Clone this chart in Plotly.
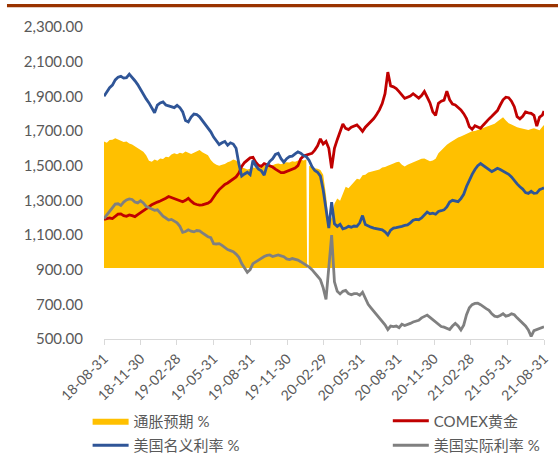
import pandas as pd
import plotly.graph_objects as go

# Weekly observation dates plus the final month-end
WEEKS = pd.date_range("2018-08-31", periods=157, freq="7D").strftime("%Y-%m-%d").tolist()
END_DATE = "2021-08-31"
DATES = WEEKS + [END_DATE]

# Quarter-end tick dates
TICK_DATES = ["2018-08-31", "2018-11-30", "2019-02-28", "2019-05-31", "2019-08-31",
              "2019-11-30", "2020-02-29", "2020-05-31", "2020-08-31", "2020-11-30",
              "2021-02-28", "2021-05-31", "2021-08-31"]
TICK_LABELS = [d[2:] for d in TICK_DATES]

Y_TICKS = [500, 700, 900, 1100, 1300, 1500, 1700, 1900, 2100, 2300]

# COMEX gold
GOLD = [
    1190, 1192, 1198, 1195, 1208, 1220, 1222, 1212, 1208, 1216,
    1212, 1206, 1218, 1228, 1238, 1250, 1262, 1275, 1285, 1290,
    1296, 1302, 1312, 1322, 1316, 1310, 1304, 1298, 1292, 1300,
    1312, 1295, 1282, 1276, 1272, 1274, 1278, 1284, 1295, 1322,
    1342, 1362, 1380, 1392, 1400, 1412, 1420, 1435, 1458, 1495,
    1518, 1530, 1545, 1548, 1520, 1502, 1496, 1512, 1505, 1500,
    1492, 1480, 1472, 1460, 1460, 1466, 1470, 1476, 1486, 1500,
    1540, 1556, 1560, 1565, 1571, 1590, 1615, 1655, 1625, 1640,
    1600, 1485, 1600, 1650, 1690, 1740, 1715, 1708, 1722, 1730,
    1735, 1718, 1698, 1722, 1738, 1755, 1772, 1795, 1822, 1858,
    1915, 2040, 1960, 1955, 1945, 1927, 1905, 1888, 1895, 1902,
    1915, 1905, 1890, 1905, 1928, 1895, 1862, 1810, 1790, 1860,
    1872, 1878, 1930, 1880, 1855, 1850, 1838, 1822, 1800, 1772,
    1725, 1710, 1730, 1725, 1716, 1735, 1755, 1770, 1785, 1800,
    1818, 1850, 1880, 1895, 1892, 1872, 1840, 1783, 1770, 1785,
    1810, 1805, 1802, 1790, 1728, 1780, 1792,
    1815,
]

# US nominal rate (scaled to the gold axis)
NOMINAL = [
    1900, 1925, 1950, 1965, 1995, 2010, 2015, 2005, 2008, 2028,
    2012, 1990, 1968, 1940, 1908, 1885, 1862, 1830, 1805, 1850,
    1862, 1868, 1850, 1845, 1838, 1835, 1848, 1835, 1810, 1760,
    1752, 1780, 1798, 1795, 1782, 1760, 1735, 1715, 1695, 1665,
    1640, 1622, 1632, 1640, 1618, 1632, 1625, 1600, 1510, 1440,
    1452, 1462, 1448, 1530, 1500, 1480, 1470, 1445, 1500, 1525,
    1540, 1565, 1572, 1540, 1520, 1540, 1552, 1555, 1568, 1580,
    1572, 1558, 1552, 1530, 1495, 1472, 1462, 1440, 1360, 1260,
    1140, 1290, 1165, 1150, 1162, 1135, 1140, 1150, 1145, 1152,
    1150, 1170, 1212, 1160, 1150, 1145, 1140, 1138, 1135, 1130,
    1118, 1100, 1128, 1140, 1142, 1148, 1150, 1155, 1158, 1170,
    1185, 1190, 1188, 1198, 1215, 1232, 1222, 1226, 1220, 1236,
    1240, 1245, 1262, 1290, 1300, 1295, 1292, 1310, 1335, 1380,
    1417, 1450, 1478, 1500, 1512, 1500, 1488, 1478, 1466, 1475,
    1485, 1478, 1470, 1462, 1450, 1435, 1412, 1395, 1378, 1365,
    1345, 1340, 1352, 1340, 1342, 1362, 1368,
    1372,
]

# US real rate (scaled to the gold axis)
REAL = [
    1195, 1215, 1235, 1255, 1278, 1280, 1270, 1290, 1302, 1308,
    1305, 1290, 1285, 1298, 1285, 1265, 1258, 1248, 1242, 1245,
    1228, 1208, 1198, 1186, 1190, 1182, 1170, 1150, 1115, 1120,
    1130, 1122, 1118, 1126, 1124, 1112, 1100, 1090, 1085, 1050,
    1048, 1050, 1040, 1028, 1016, 1010, 1004, 990, 972, 935,
    910, 885, 900, 935, 945, 956, 966, 976, 982, 985,
    976, 980, 985, 980, 975, 962, 958, 964, 960, 955,
    946, 937, 925, 915, 900, 878, 862, 842, 795, 728,
    900, 1100, 830, 775, 760, 775, 780, 762, 755, 762,
    762, 752, 770, 730, 700, 680, 660, 640, 620, 602,
    582, 555, 575, 572, 575, 565, 585, 578, 582, 590,
    598, 602, 608, 622, 632, 638, 625, 612, 598, 582,
    572, 568, 562, 555, 575, 590, 575, 552, 580, 640,
    680, 698, 705, 706, 698, 685, 675, 665, 645, 632,
    628, 636, 646, 632, 636, 645, 640, 622, 608, 592,
    575, 552, 515, 548, 555, 560, 565,
    570,
]

# Inflation expectation (scaled), split around the missing mid-January 2020 print
EXPECT_BEFORE = [
    1640, 1632, 1648, 1650, 1658, 1650, 1645, 1636, 1640, 1628,
    1622, 1612, 1605, 1592, 1580, 1560, 1528, 1522, 1535, 1528,
    1542, 1538, 1552, 1548, 1565, 1572, 1566, 1575, 1570, 1582,
    1576, 1568, 1575, 1582, 1590, 1578, 1570, 1560, 1532, 1515,
    1505, 1500, 1506, 1510, 1520, 1525, 1535, 1530, 1515, 1490,
    1485, 1478, 1482, 1490, 1488, 1495, 1492, 1500, 1498, 1505,
    1502, 1510, 1512, 1508, 1515, 1520, 1518, 1525, 1522, 1530,
    1535, 1530, 1535,
]
EXPECT_AFTER = [
    1500, 1492, 1485, 1482, 1475, 1448, 1330,
    1170, 1200, 1280, 1310, 1298, 1340, 1378, 1370, 1390, 1405,
    1425, 1420, 1445, 1448, 1460, 1465, 1470, 1475, 1478, 1490,
    1492, 1500, 1505, 1512, 1520, 1522, 1505, 1495, 1505, 1512,
    1520, 1530, 1535, 1540, 1542, 1535, 1525, 1530, 1540, 1572,
    1590, 1608, 1620, 1632, 1642, 1655, 1662, 1668, 1676, 1685,
    1692, 1698, 1700, 1706, 1710, 1716, 1722, 1730, 1736, 1742,
    1755, 1768, 1780, 1760, 1745, 1738, 1728, 1722, 1718, 1714,
    1710, 1706, 1712, 1716, 1710, 1705, 1725,
    1735,
]
GAP_DATES = ["2020-01-19", "2020-01-23"]
EXPECT_FLOOR = 910

n_before = len(EXPECT_BEFORE)
expect_x = DATES[:n_before] + GAP_DATES + DATES[n_before:]
expect_y = EXPECT_BEFORE + [EXPECT_FLOOR, EXPECT_FLOOR] + EXPECT_AFTER

FONT = "Lato, 'Noto Sans CJK SC', sans-serif"
TEXT = "#595959"

fig = go.Figure()

# Floor that the inflation-expectation area is filled down to
fig.add_trace(go.Scatter(
    x=[DATES[0], DATES[-1]], y=[EXPECT_FLOOR, EXPECT_FLOOR],
    mode="lines", line=dict(width=0, color="rgba(0,0,0,0)"),
    showlegend=False, hoverinfo="skip",
))
fig.add_trace(go.Scatter(
    x=expect_x, y=expect_y, name="通胀预期 %",
    mode="lines", line=dict(width=0, color="#FFC000"),
    fill="tonexty", fillcolor="#FFC000",
    legend="legend", legendgroup="a", legendrank=1,
))
fig.add_trace(go.Scatter(
    x=DATES, y=GOLD, name="COMEX黄金",
    mode="lines", line=dict(color="#C00000", width=2.8),
    legend="legend2", legendgroup="b", legendrank=1,
))
fig.add_trace(go.Scatter(
    x=DATES, y=NOMINAL, name="美国名义利率 %",
    mode="lines", line=dict(color="#2F5597", width=2.8),
    legend="legend", legendgroup="c", legendrank=2,
))
fig.add_trace(go.Scatter(
    x=DATES, y=REAL, name="美国实际利率 %",
    mode="lines", line=dict(color="#808080", width=2.8),
    legend="legend2", legendgroup="d", legendrank=2,
))

legend_style = dict(
    orientation="v", xref="container", yref="container",
    y=0.109, xanchor="left", yanchor="top",
    font=dict(family=FONT, size=15, color=TEXT),
    itemwidth=36, tracegroupgap=2, traceorder="grouped",
    bgcolor="rgba(0,0,0,0)",
)

fig.update_layout(
    width=558, height=454, autosize=False,
    margin=dict(l=104, r=14, t=27, b=115, autoexpand=False),
    paper_bgcolor="white", plot_bgcolor="white",
    font=dict(family=FONT, size=15, color=TEXT),
    showlegend=True,
    legend=dict(x=0.157, **legend_style),
    legend2=dict(x=0.695, **legend_style),
    shapes=[dict(
        type="rect", xref="paper", yref="paper",
        x0=-0.2205, x1=1.032, y0=1.063, y1=1.0737,
        fillcolor="#993300", line=dict(width=0),
    )],
)

fig.update_xaxes(
    type="date", range=[DATES[0], END_DATE],
    tickvals=TICK_DATES, ticktext=TICK_LABELS, tickangle=-45,
    tickfont=dict(family=FONT, size=14, color=TEXT),
    showgrid=False, zeroline=False,
    showline=True, linecolor="#D9D9D9", linewidth=1,
    ticks="outside", ticklen=5, tickcolor="#D9D9D9",
)
fig.update_yaxes(
    range=[500, 2300], tickvals=Y_TICKS, tickformat=",.2f",
    tickfont=dict(family=FONT, size=15, color=TEXT),
    showgrid=False, zeroline=False, showline=False,
    ticks="", ticklabelstandoff=20,
)

fig.write_html("out.html")
